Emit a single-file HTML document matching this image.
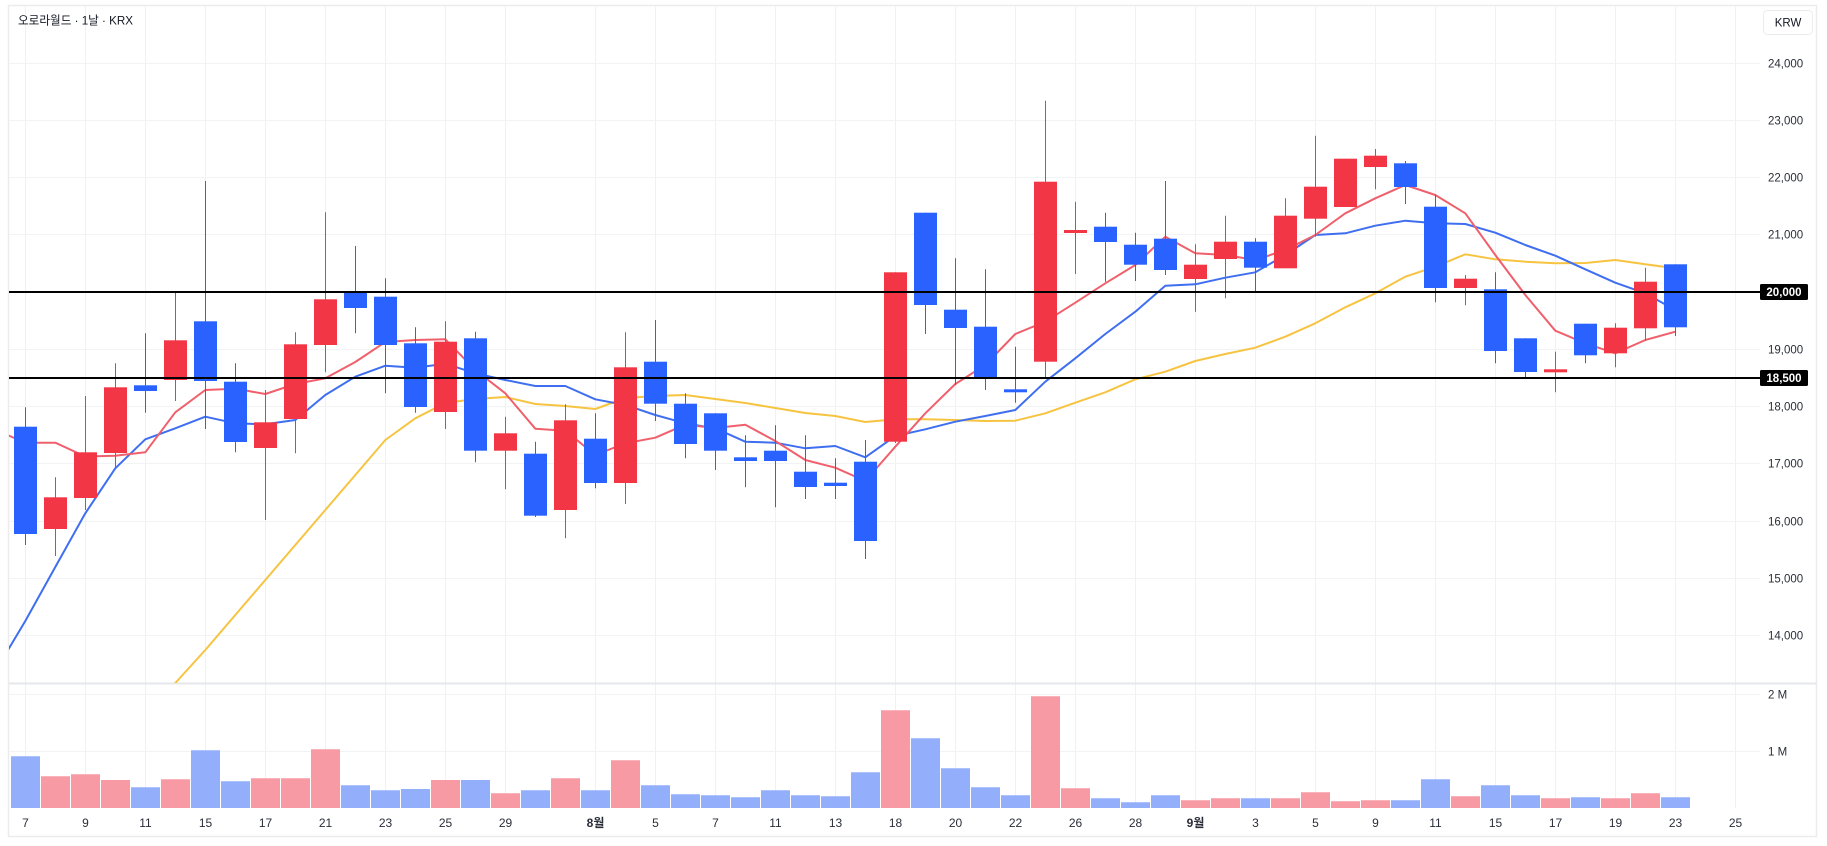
<!DOCTYPE html>
<html><head><meta charset="utf-8"><style>
html,body{margin:0;padding:0;background:#fff;}
svg{display:block;font-family:"Liberation Sans","Noto Sans CJK KR",sans-serif;}
</style></head><body>
<svg width="1827" height="846" viewBox="0 0 1827 846" xmlns="http://www.w3.org/2000/svg">
<defs><clipPath id="cp"><rect x="9" y="6" width="1751" height="677"/></clipPath></defs>
<rect x="0" y="0" width="1827" height="846" fill="#fff"/>
<rect x="8.5" y="5.5" width="1808" height="831" fill="none" stroke="#ececec" stroke-width="1.5"/>
<!-- horizontal grid -->
<path d="M9 63.5H1760M9 120.5H1760M9 177.5H1760M9 234.5H1760M9 349.5H1760M9 406.5H1760M9 463.5H1760M9 521.5H1760M9 578.5H1760M9 635.5H1760M9 694.5H1760M9 751.5H1760" stroke="#f2f3f5" stroke-width="1"/>
<!-- vertical grid -->
<path d="M25.5 6V808M85.5 6V808M145.5 6V808M205.5 6V808M265.5 6V808M325.5 6V808M385.5 6V808M445.5 6V808M505.5 6V808M595.5 6V808M655.5 6V808M715.5 6V808M775.5 6V808M835.5 6V808M895.5 6V808M955.5 6V808M1015.5 6V808M1075.5 6V808M1135.5 6V808M1195.5 6V808M1255.5 6V808M1315.5 6V808M1375.5 6V808M1435.5 6V808M1495.5 6V808M1555.5 6V808M1615.5 6V808M1675.5 6V808M1735.5 6V808" stroke="#f0f1f3" stroke-width="1"/>
<!-- pane separator -->
<path d="M9 683.5H1817" stroke="#e6e7ea" stroke-width="2"/>

<!-- MA lines -->
<g clip-path="url(#cp)" fill="none" stroke-width="2" stroke-linejoin="round">
<polyline stroke="#f7c441" points="160,697 175.3,683 205.3,650 235.3,615 265.3,580 295.3,545 325.3,510 355.3,475 385.3,440 415.3,418.3 445.3,403 475.3,399 505.3,397 535.3,404 565.3,406 595.3,409 625.3,398 655.3,396 685.3,395 715.3,399 745.3,403 775.3,408 805.3,413 835.3,416 865.3,422 895.3,419.3 925.3,419.3 955.3,420 985.3,421 1015.3,420.7 1045.3,413.3 1075.3,402.7 1105.3,392.3 1135.3,379.3 1165.3,371.7 1195.3,361 1225.3,354 1255.3,347.7 1285.3,336.7 1315.3,323.3 1345.3,307.3 1375.3,293.3 1405.3,276.7 1435.3,266.7 1465.3,254.3 1495.3,259.3 1525.3,261.7 1555.3,263.3 1585.3,263 1615.3,260 1645.3,264.3 1675.3,268.3"/>
<polyline stroke="#3f6ff0" points="5,655 25.3,621 55.3,567 85.3,513.3 115.3,468.3 145.3,439.3 175.3,428.3 205.3,416.7 235.3,423.3 265.3,424.3 295.3,420 325.3,395 355.3,376.7 385.3,365.7 415.3,367.7 445.3,363.7 475.3,373.3 505.3,380 535.3,386 565.3,386 595.3,399.3 625.3,405 655.3,415 685.3,423.3 715.3,428.3 745.3,441.7 775.3,442.7 805.3,448.3 835.3,446 865.3,457.3 895.3,436 925.3,429.3 955.3,421.7 985.3,416 1015.3,410 1045.3,381.7 1075.3,358.3 1105.3,334 1135.3,311.7 1165.3,285.7 1195.3,284.3 1225.3,277.7 1255.3,272.3 1285.3,255 1315.3,235 1345.3,233.3 1375.3,225.7 1405.3,220.7 1435.3,223.3 1465.3,224 1495.3,232.7 1525.3,245 1555.3,255.7 1585.3,269.3 1615.3,282.7 1645.3,293.3 1675.3,310"/>
<polyline stroke="#f0606c" points="5,434 25.3,442.7 55.3,442.7 85.3,456.5 115.3,455.7 145.3,452.3 175.3,412.3 205.3,390 235.3,388.7 265.3,394 295.3,384 325.3,378.3 355.3,362 385.3,342 415.3,340 445.3,339.3 475.3,370 505.3,393.3 535.3,428.7 565.3,430.7 595.3,455 625.3,443.3 655.3,437.7 685.3,424.7 715.3,428 745.3,424.7 775.3,441 805.3,460 835.3,467.7 865.3,481 895.3,446.7 925.3,413.3 955.3,384 985.3,365 1015.3,334 1045.3,321.7 1075.3,302.7 1105.3,283.3 1135.3,265 1165.3,236.7 1195.3,253.3 1225.3,255 1255.3,260 1285.3,250 1315.3,235 1345.3,213.3 1375.3,198.3 1405.3,185 1435.3,195 1465.3,213.3 1495.3,255 1525.3,295 1555.3,330.7 1585.3,343.3 1615.3,353.3 1645.3,340 1675.3,331.7"/>
</g>

<!-- red candles -->
<path stroke="#f23645" stroke-width="1" fill="none" d="M55.5 477.3V556M85.5 396V510M115.5 363.3V468.3M175.5 292V401M265.5 390V520M295.5 332.3V453.3M325.5 212.3V372.3M445.5 321.3V429M505.5 416.7V489.3M565.5 404.3V538.3M625.5 332.3V504M895.5 272.3V443M1045.5 100.7V378.3M1075.5 201.7V274M1195.5 244.3V311.7M1225.5 215.7V298.3M1285.5 198.3V268.3M1315.5 135.7V236.7M1345.5 158.7V207M1375.5 149V189.3M1465.5 275V305.3M1555.5 351.7V392.3M1615.5 323.3V367.3M1645.5 267.7V340.7"/>
<g fill="#f23645">
<rect x="44" y="497.3" width="23" height="31.7"/>
<rect x="74" y="452.3" width="23" height="45.7"/>
<rect x="104" y="387.3" width="23" height="65.7"/>
<rect x="164" y="340.3" width="23" height="39.7"/>
<rect x="254" y="422.3" width="23" height="25.7"/>
<rect x="284" y="344.3" width="23" height="74.7"/>
<rect x="314" y="299.3" width="23" height="45.7"/>
<rect x="434" y="341.7" width="23" height="70.3"/>
<rect x="494" y="433.3" width="23" height="17.4"/>
<rect x="554" y="420.3" width="23" height="89.7"/>
<rect x="614" y="367.3" width="23" height="115.7"/>
<rect x="884" y="272.3" width="23" height="169.4"/>
<rect x="1034" y="181.7" width="23" height="180"/>
<rect x="1064" y="230" width="23" height="3"/>
<rect x="1184" y="264.7" width="23" height="14.3"/>
<rect x="1214" y="241.7" width="23" height="17.3"/>
<rect x="1274" y="215.7" width="23" height="52.6"/>
<rect x="1304" y="186.7" width="23" height="32"/>
<rect x="1334" y="158.7" width="23" height="48.3"/>
<rect x="1364" y="155.7" width="23" height="11.3"/>
<rect x="1454" y="278.7" width="23" height="9.3"/>
<rect x="1544" y="369.3" width="23" height="3"/>
<rect x="1604" y="327.7" width="23" height="25.6"/>
<rect x="1634" y="281.7" width="23" height="46.6"/>
</g>

<!-- blue candles -->
<path stroke="#2962ff" stroke-width="1" fill="none" d="M25.5 407.3V545M145.5 333.3V412.7M205.5 181V429M235.5 363.3V452.3M355.5 246V333.3M385.5 278.3V393.3M415.5 327.3V412.7M475.5 331.7V462.3M535.5 441.7V517M595.5 413.3V488.3M655.5 320V421M685.5 393.3V458.3M715.5 413.3V470M745.5 435.3V487.3M775.5 425.3V507.3M805.5 435.3V499M835.5 458.3V499M865.5 440V559M925.5 212.7V334M955.5 258.3V385M985.5 269.3V390M1015.5 346.7V402.7M1105.5 212.7V281.7M1135.5 232.7V281M1165.5 181V275M1255.5 238.3V292.3M1405.5 161V204M1435.5 195V302.3M1495.5 272.3V363.3M1525.5 338.3V378.3M1585.5 323.7V363.3M1675.5 264.3V336"/>
<g fill="#2962ff">
<rect x="14" y="426.7" width="23" height="107.3"/>
<rect x="134" y="385.3" width="23" height="5.7"/>
<rect x="194" y="321.3" width="23" height="59.7"/>
<rect x="224" y="381.7" width="23" height="60.3"/>
<rect x="344" y="292" width="23" height="16"/>
<rect x="374" y="296.7" width="23" height="48.3"/>
<rect x="404" y="343.3" width="23" height="63.7"/>
<rect x="464" y="338.3" width="23" height="112.4"/>
<rect x="524" y="453.7" width="23" height="62"/>
<rect x="584" y="438.7" width="23" height="44.3"/>
<rect x="644" y="361.7" width="23" height="42"/>
<rect x="674" y="403.7" width="23" height="40.3"/>
<rect x="704" y="413.3" width="23" height="37.4"/>
<rect x="734" y="457.3" width="23" height="3.7"/>
<rect x="764" y="450.7" width="23" height="10.3"/>
<rect x="794" y="471.7" width="23" height="15.3"/>
<rect x="824" y="482.7" width="23" height="3.3"/>
<rect x="854" y="461.7" width="23" height="79.3"/>
<rect x="914" y="212.7" width="23" height="92.3"/>
<rect x="944" y="309.7" width="23" height="18.3"/>
<rect x="974" y="326.7" width="23" height="52.3"/>
<rect x="1004" y="389.3" width="23" height="3"/>
<rect x="1094" y="226.7" width="23" height="15.3"/>
<rect x="1124" y="244.7" width="23" height="20"/>
<rect x="1154" y="238.7" width="23" height="31.3"/>
<rect x="1244" y="241.7" width="23" height="26"/>
<rect x="1394" y="163.3" width="23" height="23.7"/>
<rect x="1424" y="206.7" width="23" height="81.3"/>
<rect x="1484" y="289.3" width="23" height="61.7"/>
<rect x="1514" y="338.3" width="23" height="33.7"/>
<rect x="1574" y="323.7" width="23" height="31.6"/>
<rect x="1664" y="264.3" width="23" height="63"/>
</g>

<!-- horizontal level lines -->
<path d="M9 292H1760M9 378H1760" stroke="#000" stroke-width="2"/>

<!-- volume -->
<path fill="#f79aa3" d="M41 776.3h29V808h-29ZM71 774.3h29V808h-29ZM101 780h29V808h-29ZM161 779.3h29V808h-29ZM251 778.3h29V808h-29ZM281 778.3h29V808h-29ZM311 749.3h29V808h-29ZM431 780h29V808h-29ZM491 793.3h29V808h-29ZM551 778.3h29V808h-29ZM611 760.3h29V808h-29ZM881 710.3h29V808h-29ZM1031 696.3h29V808h-29ZM1061 788.3h29V808h-29ZM1181 800.3h29V808h-29ZM1211 798.3h29V808h-29ZM1271 798.3h29V808h-29ZM1301 792.3h29V808h-29ZM1331 801.3h29V808h-29ZM1361 800.3h29V808h-29ZM1451 796.3h29V808h-29ZM1541 798.3h29V808h-29ZM1601 798.3h29V808h-29ZM1631 793.3h29V808h-29Z"/>
<path fill="#93aefa" d="M11 756.3h29V808h-29ZM131 787.3h29V808h-29ZM191 750.3h29V808h-29ZM221 781.3h29V808h-29ZM341 785.3h29V808h-29ZM371 790.3h29V808h-29ZM401 789h29V808h-29ZM461 780h29V808h-29ZM521 790.3h29V808h-29ZM581 790.3h29V808h-29ZM641 785.3h29V808h-29ZM671 794.3h29V808h-29ZM701 795.3h29V808h-29ZM731 797.3h29V808h-29ZM761 790.3h29V808h-29ZM791 795.3h29V808h-29ZM821 796.3h29V808h-29ZM851 772.3h29V808h-29ZM911 738.3h29V808h-29ZM941 768.3h29V808h-29ZM971 787.3h29V808h-29ZM1001 795.3h29V808h-29ZM1091 798.3h29V808h-29ZM1121 802.3h29V808h-29ZM1151 795.3h29V808h-29ZM1241 798.3h29V808h-29ZM1391 800.3h29V808h-29ZM1421 779.3h29V808h-29ZM1481 785.3h29V808h-29ZM1511 795.3h29V808h-29ZM1571 797.3h29V808h-29ZM1661 797.3h29V808h-29Z"/>

<!-- title -->
<text x="18" y="24.5" font-size="12" fill="#131722" textLength="115" lengthAdjust="spacingAndGlyphs">오로라월드 · 1날 · KRX</text>

<!-- KRW box -->
<rect x="1763.5" y="10.5" width="49" height="24" rx="4" fill="#fff" stroke="#ececef"/>
<text x="1788" y="26.5" font-size="11.5" fill="#131722" text-anchor="middle">KRW</text>

<!-- price axis labels -->
<g font-size="11.5" fill="#2a2e39">
<text x="1768" y="67.5">24,000</text>
<text x="1768" y="124.5">23,000</text>
<text x="1768" y="181.5">22,000</text>
<text x="1768" y="238.5">21,000</text>
<text x="1768" y="353.5">19,000</text>
<text x="1768" y="410.5">18,000</text>
<text x="1768" y="467.5">17,000</text>
<text x="1768" y="525.5">16,000</text>
<text x="1768" y="582.5">15,000</text>
<text x="1768" y="639.5">14,000</text>
<text x="1768" y="698.5">2 M</text>
<text x="1768" y="755.5">1 M</text>
</g>
<rect x="1760" y="284" width="48" height="16" rx="1.5" fill="#000"/>
<text x="1784" y="296.2" font-size="11.5" font-weight="bold" fill="#fff" text-anchor="middle">20,000</text>
<rect x="1760" y="370" width="48" height="16" rx="1.5" fill="#000"/>
<text x="1784" y="382.2" font-size="11.5" font-weight="bold" fill="#fff" text-anchor="middle">18,500</text>

<!-- date labels -->
<g font-size="12" fill="#2a2e39" text-anchor="middle">
<text x="25.5" y="827">7</text>
<text x="85.5" y="827">9</text>
<text x="145.5" y="827">11</text>
<text x="205.5" y="827">15</text>
<text x="265.5" y="827">17</text>
<text x="325.5" y="827">21</text>
<text x="385.5" y="827">23</text>
<text x="445.5" y="827">25</text>
<text x="505.5" y="827">29</text>
<text x="595.5" y="827" font-weight="bold">8월</text>
<text x="655.5" y="827">5</text>
<text x="715.5" y="827">7</text>
<text x="775.5" y="827">11</text>
<text x="835.5" y="827">13</text>
<text x="895.5" y="827">18</text>
<text x="955.5" y="827">20</text>
<text x="1015.5" y="827">22</text>
<text x="1075.5" y="827">26</text>
<text x="1135.5" y="827">28</text>
<text x="1195.5" y="827" font-weight="bold">9월</text>
<text x="1255.5" y="827">3</text>
<text x="1315.5" y="827">5</text>
<text x="1375.5" y="827">9</text>
<text x="1435.5" y="827">11</text>
<text x="1495.5" y="827">15</text>
<text x="1555.5" y="827">17</text>
<text x="1615.5" y="827">19</text>
<text x="1675.5" y="827">23</text>
<text x="1735.5" y="827">25</text>
</g>
</svg>
</body></html>
